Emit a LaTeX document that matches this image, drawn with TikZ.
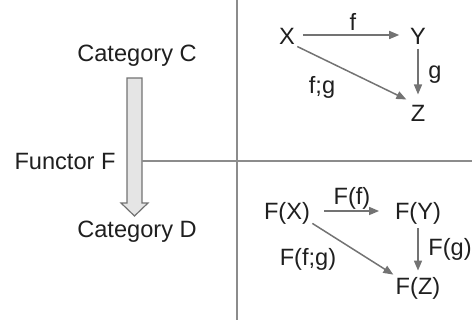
\documentclass[tikz,border=0pt]{standalone}
\usepackage{fontspec}
\setmainfont{Liberation Sans}
\usepackage{tikz}
\usetikzlibrary{arrows.meta}

\begin{document}
\begin{tikzpicture}[x=0.5pt, y=-0.5pt,
    every node/.style={font=\fontsize{11.8}{13}\selectfont, text=black!88, inner sep=1pt},
    morph/.style={draw=black!55, line width=0.75pt, -{Triangle[length=5pt, width=4pt]}},
    rule/.style={draw=black!45, line width=0.6pt}]
    \useasboundingbox (0,0) rectangle (472,320);

    % Left side: the two categories and the functor
    \node (catC) at (137, 56) {Category C};
    \node (catD) at (137, 232) {Category D};
    \node (fun) at (65, 161) {Functor F};
    \draw[draw=black!55, fill=black!10, line width=0.6pt]
        (127,78) -- (142,78) -- (142,203) -- (148,203) -- (134.5,216)
        -- (121,203) -- (127,203) -- cycle;
    \coordinate (shaft) at (142, 161);

    % Dividing lines
    \coordinate (vtop) at (237, 0);
    \coordinate (vbot) at (237, 320);
    \coordinate (hend) at (472, 161);
    \draw[rule] (vtop) -- (vbot);
    \draw[rule] (shaft) -- (hend);

    % Upper diagram
    \node (X) at (287, 36) {X};
    \node (Y) at (418, 36) {Y};
    \node (Z) at (418, 113) {Z};
    \draw[morph] ([xshift=2.75pt, yshift=0.5pt]X.east) -- ([xshift=-4.25pt, yshift=0.5pt]Y.west);
    \draw[morph] ([yshift=-1pt]Y.south) -- ([yshift=4pt]Z.north);
    \draw[morph] (X.south east) -- ([xshift=-1pt, yshift=1.5pt]Z.north west);
    \node (lf) at (353, 22) {f};
    \node (lg) at (435, 75) {g};
    \node (lfg) at (322, 87) {f;g};

    % Lower diagram
    \node (FX) at (287, 213) {F(X)};
    \node (FY) at (418, 213) {F(Y)};
    \node (FZ) at (418, 288) {F(Z)};
    \draw[morph] ([xshift=6pt, yshift=1pt]FX.east) -- ([xshift=-6.8pt, yshift=1pt]FY.west);
    \draw[morph] ([yshift=-1pt]FY.south) -- ([yshift=2pt]FZ.north);
    \draw[morph] ([yshift=1.5pt]FX.south east) -- (FZ.north west);
    \node (lFf) at (352, 198) {F(f)};
    \node (lFg) at (450, 249) {F(g)};
    \node (lFfg) at (308, 259) {F(f;g)};
\end{tikzpicture}
\end{document}
